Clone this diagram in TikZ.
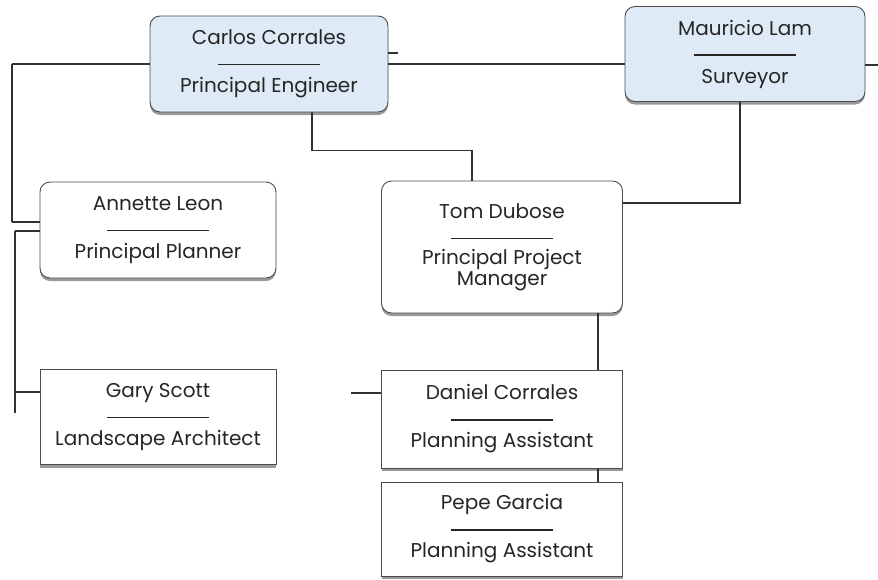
\documentclass[tikz,border=0pt]{standalone}
\usepackage{fontspec}
\setmainfont{Poppins}
\usetikzlibrary{shadows}
\definecolor{cardblue}{RGB}{222,235,247}
\definecolor{wire}{RGB}{50,50,50}
\newcommand{\divline}{\rule[0.3ex]{102pt}{1.4pt}}
\begin{document}
\begin{tikzpicture}
  [x=1pt,y=-1pt,
   every node/.style={draw=gray!60!black,line width=0.9pt,align=center,
     font=\fontsize{20}{24}\selectfont,text=black!85,inner sep=0pt,
     drop shadow={shadow xshift=0pt,shadow yshift=-3pt,fill=gray!80,opacity=1}},
   roundcard/.style={rounded corners=10pt,fill=white},
   bluecard/.style={roundcard,fill=cardblue},
   flatcard/.style={fill=white}]
\useasboundingbox (0,0) rectangle (878,579);
\node (carlos)[bluecard,minimum width=238pt,minimum height=96pt] at (269,64) {Carlos Corrales\\\divline\\Principal Engineer};
  \node (mauricio)[bluecard,minimum width=240pt,minimum height=95pt] at (745,54) {Mauricio Lam\\\divline\\Surveyor};
  \node (annette)[roundcard,minimum width=236pt,minimum height=96pt] at (158,230) {Annette Leon\\\divline\\Principal Planner};
  \node (gary)[flatcard,minimum width=236pt,minimum height=95pt] at (158,417) {Gary Scott\\\divline\\Landscape Architect};
  \node (tom)[roundcard,minimum width=241pt,minimum height=132pt] at (502,247) {Tom Dubose\\\divline\\[-2pt]Principal Project\\[-3pt]Manager};
  \node (daniel)[flatcard,minimum width=241pt,minimum height=98pt] at (502,419) {Daniel Corrales\\\divline\\Planning Assistant};
  \node (pepe)[flatcard,minimum width=241pt,minimum height=94pt] at (502,529) {Pepe Garcia\\\divline\\Planning Assistant};

 \path[line width=1.4pt, wire]
   (carlos.west) edge (12,64)
   (12,64) edge (12,222)
   (12,222) edge ([yshift=8pt]annette.west)
   ([yshift=-1pt]annette.west) edge (15,231)
   (15,231) edge (15,413)
   (15,392) edge ([yshift=25pt]gary.west);
 \path[line width=1.4pt, wire]
   (carlos.east) edge (carlos.east -| mauricio.west)
   ([yshift=11pt]carlos.east) edge ++(10,0)
   ([yshift=-11pt]mauricio.east) edge (878,65);
 \draw[line width=1.4pt, wire]
   ([xshift=43pt]carlos.south) -- ++(0,38) -| ([xshift=-30pt]tom.north);
 \draw[line width=1.4pt, wire]
   ([xshift=-5pt]mauricio.south) |- ([yshift=44pt]tom.east);
 \path[line width=1.4pt, wire]
   ([xshift=96pt]tom.south) edge ([xshift=96pt]daniel.north)
   ([xshift=96pt]daniel.south) edge ([xshift=96pt]pepe.north)
   ([yshift=26pt]daniel.west) edge ++(-30,0);

\end{tikzpicture}
\end{document}
